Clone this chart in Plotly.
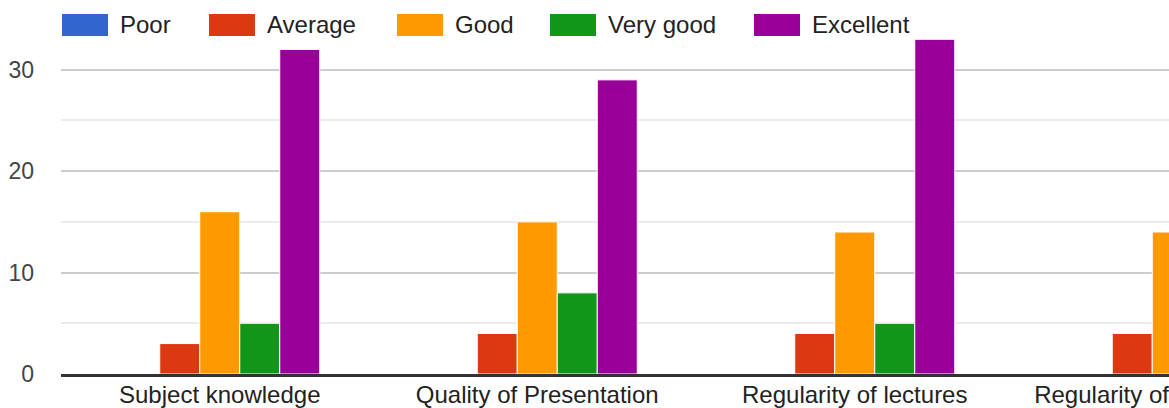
import plotly.graph_objects as go

# ---------------- data ----------------
categories = ["Subject knowledge", "Quality of Presentation",
              "Regularity of lectures", "Regularity of assignments"]
series_names = ["Poor", "Average", "Good", "Very good", "Excellent"]
poor = [0, 0, 0, 0]
average = [3, 4, 4, 4]
good = [16, 15, 14, 14]
very_good = [5, 8, 5, None]
excellent = [32, 29, 33, None]
y_tick_vals = [0, 10, 20, 30]
y_minor_vals = [5, 15, 25, 35]

# ---------------- style ----------------
colors = ["#3366cc", "#dc3912", "#ff9900", "#109618", "#990099"]
FONT = "Liberation Sans, Arial, sans-serif"

W, H = 1340, 408
ML, MR, MT, MB = 61, 9, 19, 34
PW, PH = W - ML - MR, H - MT - MB

fig = go.Figure()
for name, vals, c in zip(series_names, [poor, average, good, very_good, excellent], colors):
    fig.add_bar(x=categories, y=vals, name=name,
                marker=dict(color=c, line=dict(color="white", width=1)),
                showlegend=False, hoverinfo="skip")

# custom legend (wide swatches like Google Charts)
leg_x = [62, 209, 397, 550, 754]
sw_w, sw_h, sw_cy = 46, 22, 25


def px2x(p):
    return (p - ML) / PW


def py2y(p):
    return (H - MB - p) / PH


shapes, anns = [], []
for name, c, x0 in zip(series_names, colors, leg_x):
    shapes.append(dict(type="rect", xref="paper", yref="paper",
                       x0=px2x(x0), x1=px2x(x0 + sw_w),
                       y0=py2y(sw_cy + sw_h / 2), y1=py2y(sw_cy - sw_h / 2),
                       fillcolor=c, line=dict(width=0), layer="above"))
    anns.append(dict(xref="paper", yref="paper", x=px2x(x0 + sw_w + 10), y=py2y(sw_cy),
                     xanchor="left", yanchor="middle", text=name, showarrow=False,
                     font=dict(size=24, color="#222222", family=FONT),
                     bgcolor="white", borderpad=1))

fig.update_layout(
    width=W, height=H,
    margin=dict(l=ML, r=MR, t=MT, b=MB, pad=0, autoexpand=False),
    plot_bgcolor="white", paper_bgcolor="white",
    barmode="group", bargap=0.37, bargroupgap=0,
    font=dict(family=FONT, size=24, color="#222222"),
    shapes=shapes, annotations=anns, showlegend=False,
)
fig.update_xaxes(type="category", range=[-0.5, len(categories) - 0.5],
                 showline=True, linecolor="#333333", linewidth=3,
                 ticks="", showgrid=False, zeroline=False, automargin=False,
                 tickfont=dict(size=24, color="#222222", family=FONT),
                 ticklabelstandoff=-3, fixedrange=True)
fig.update_yaxes(range=[0, 35], tickmode="array", tickvals=y_tick_vals,
                 showgrid=True, gridcolor="#cccccc", gridwidth=2,
                 minor=dict(tickmode="array", tickvals=y_minor_vals, showgrid=True,
                            gridcolor="#ebebeb", gridwidth=2, ticks=""),
                 zeroline=False, showline=False, ticks="", automargin=False,
                 tickfont=dict(size=23, color="#444444", family=FONT),
                 ticklabelstandoff=26, fixedrange=True)

fig.write_html("out.html", config={"displayModeBar": False},
               post_script="document.body.style.margin='0';"
                           "document.body.style.overflow='hidden';"
                           "document.documentElement.style.overflow='hidden';")
